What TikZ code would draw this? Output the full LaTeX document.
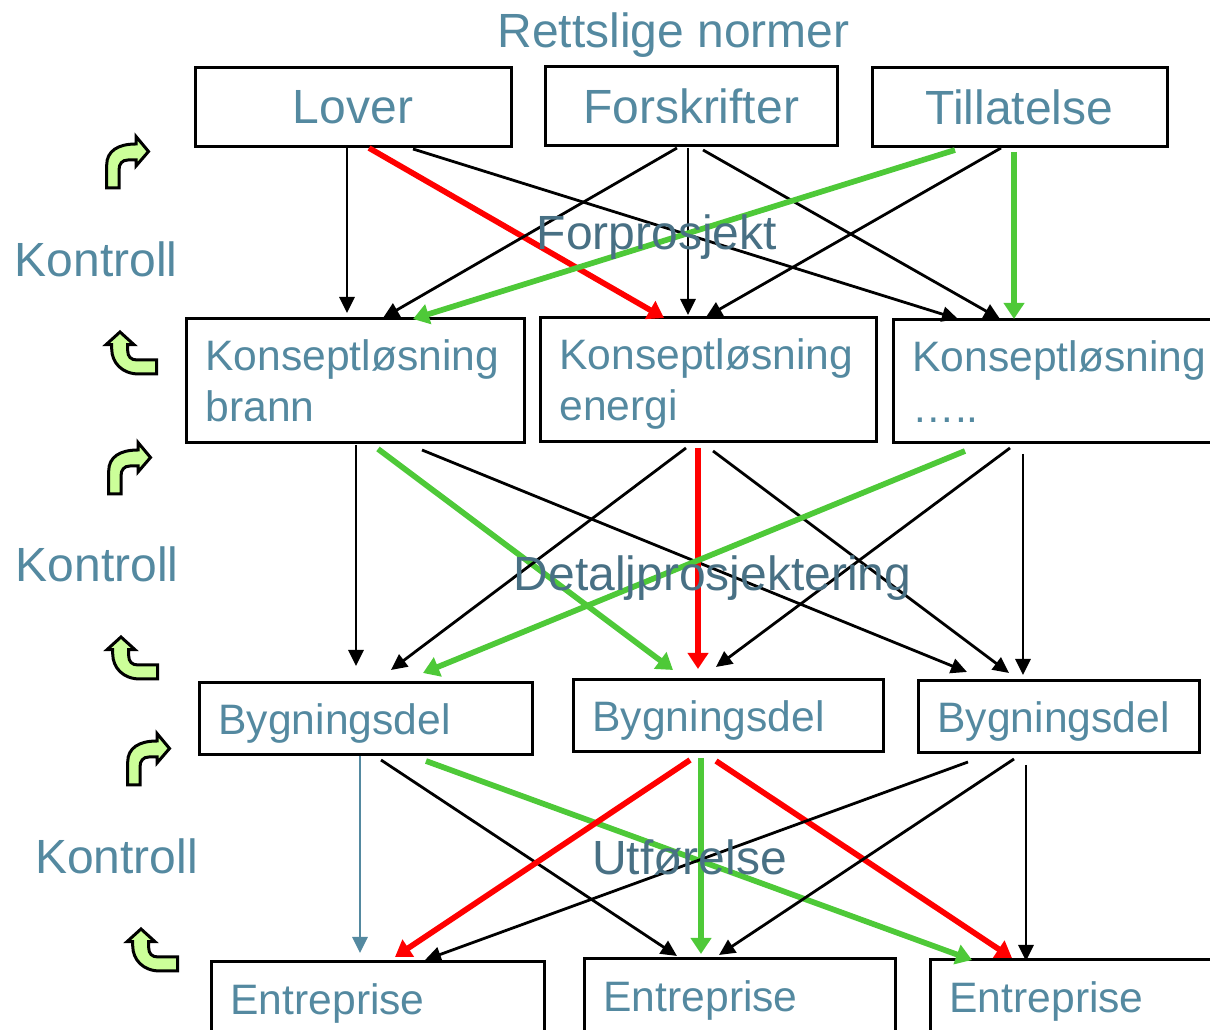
\documentclass[tikz,border=0pt]{standalone}
\usepackage{fontspec}
\setmainfont{Liberation Sans}
\usetikzlibrary{arrows.meta}
\definecolor{tekstblaa}{RGB}{84,137,160}
\definecolor{tekstmork}{RGB}{72,112,132}
\definecolor{pilgronn}{RGB}{78,201,56}
\definecolor{ikonfyll}{RGB}{204,255,153}
\tikzset{
	boks/.style={draw=black,line width=3pt,text=tekstblaa,inner xsep=19.5pt,inner ysep=0pt,outer sep=0pt,text depth=0pt,align=left},
	toline/.style={text depth=51pt},
	stor/.style={font=\fontsize{48}{54}\selectfont},
	liten/.style={font=\fontsize{42.6}{51}\selectfont},
	tittel/.style={stor,text=tekstblaa,inner sep=0pt},
	fase/.style={stor,text=tekstmork,inner sep=0pt},
	pil/.style={line width=2.8pt,-{Triangle[length=16pt,width=15pt]}},
	pilgron/.style={pil,line width=5.7pt,draw=pilgronn,-{Triangle[length=16pt,width=20pt]}},
	pilrod/.style={pil,line width=5.7pt,draw=red,-{Triangle[length=16pt,width=20pt]}},
	pilblaa/.style={pil,draw=tekstblaa},
	ikon/.style={draw=black,line width=3pt,fill=ikonfyll,line join=miter},
	svingned/.pic={\draw[ikon] (0.7,0)--(0.7,23) .. controls (0.7,37) and (12,44) .. (30,44)--(30,51.5)--(42.5,36.5)--(30,22)--(30,28)--(22,28) .. controls (16,28) and (13,24) .. (13,18)--(13,0)--cycle;},
	svingopp/.pic={\draw[ikon] (16,42)--(30,29.3)--(23.7,29.3)--(23.7,23.3) .. controls (23.7,17.3) and (27,14) .. (33,14)--(52.7,14)--(52.7,0)--(35,0) .. controls (18,0) and (7.7,11.3) .. (7.7,25.3)--(7.7,29.3)--(2,29.3)--cycle;}
}
\begin{document}
\begin{tikzpicture}[x=1pt,y=1pt]
	\useasboundingbox (0,0) rectangle (1210,1030);
	% rettslige normer
	\node[boks,stor,minimum width=316pt,minimum height=79pt] (lover) at (353,922.5) {Lover};
	\node[boks,stor,minimum width=292pt,minimum height=79pt] (forskrifter) at (691,923.5) {Forskrifter};
	\node[boks,stor,minimum width=295pt,minimum height=79pt] (tillatelse) at (1019.5,922.5) {Tillatelse};
	% konsept
	\node[boks,toline,liten,text width=299pt,minimum height=124pt] (brann) at (355,649) {Konseptløsning\\brann};
	\node[boks,toline,liten,text width=297pt,minimum height=124pt] (energi) at (708,650) {Konseptløsning\\energi};
	\node[boks,toline,liten,text width=283pt,minimum height=123pt] (annet) at (1054,648.5) {Konseptløsning\\…..};
	% bygningsdeler
	\node[boks,liten,text width=294pt,minimum height=72pt] (del1) at (365.5,311) {Bygningsdel};
	\node[boks,liten,text width=271pt,minimum height=72pt] (del2) at (728,314) {Bygningsdel};
	\node[boks,liten,text width=242pt,minimum height=72pt] (del3) at (1058.5,313) {Bygningsdel};
	% entrepriser
	\node[boks,liten,text width=294pt,minimum height=74pt] (ent1) at (377.5,31) {Entreprise};
	\node[boks,liten,text width=272pt,minimum height=74pt] (ent2) at (739.5,34) {Entreprise};
	\node[boks,liten,text width=245pt,minimum height=74pt] (ent3) at (1072,33) {Entreprise};
	% normer til konsept
	\draw[pil] ([shift={(-6,-1)}]lover.south)--([shift={(-8,6)}]brann.north);
	\draw[pilrod] ([shift={(16,-1)}]lover.south)--([shift={(-44,0)}]energi.north);
	\draw[pil] ([shift={(60,-2)}]lover.south)--([shift={(-96,1)}]annet.north);
	\draw[pil] ([shift={(-14,-2)}]forskrifter.south)--([shift={(28,1)}]brann.north);
	\draw[pil] ([shift={(-3,-2)}]forskrifter.south)--([shift={(-20,3)}]energi.north);
	\draw[pil] ([shift={(12,-4)}]forskrifter.south)--([shift={(-54,1)}]annet.north);
	\draw[pilgron] ([shift={(-64.5,-3)}]tillatelse.south)--([shift={(58,0)}]brann.north);
	\draw[pil] ([shift={(-18.5,-1)}]tillatelse.south)--([shift={(-2,1)}]energi.north);
	\draw[pilgron] ([shift={(-5.5,-5)}]tillatelse.south)--([shift={(-40,1)}]annet.north);
	% konsept til bygningsdel
	\draw[pil] ([shift={(1,-2)}]brann.south)--([shift={(-9.5,17)}]del1.north);
	\draw[pilgron] ([shift={(23,-6)}]brann.south)--([shift={(-55,10)}]del2.north);
	\draw[pil] ([shift={(67,-7)}]brann.south)--([shift={(-91.5,9)}]del3.north);
	\draw[pil] ([shift={(-22,-6)}]energi.south)--([shift={(25.5,13)}]del1.north);
	\draw[pilrod] ([shift={(-10,-6)}]energi.south)--([shift={(-30,11)}]del2.north);
	\draw[pil] ([shift={(5,-9)}]energi.south)--([shift={(-49.5,8)}]del3.north);
	\draw[pilgron] ([shift={(-89,-8)}]annet.south)--([shift={(57.5,10)}]del1.north);
	\draw[pil] ([shift={(-44,-5)}]annet.south)--([shift={(-12,13)}]del2.north);
	\draw[pil] ([shift={(-31,-11)}]annet.south)--([shift={(-35.5,6)}]del3.north);
	% bygningsdel til entreprise
	\draw[pilblaa] ([shift={(-5.5,-1)}]del1.south)--([shift={(-17.5,9)}]ent1.north);
	\draw[pil] ([shift={(15.5,-5)}]del1.south)--([shift={(-62.5,3)}]ent2.north);
	\draw[pilgron] ([shift={(60.5,-6)}]del1.south)--([shift={(-100,0)}]ent3.north);
	\draw[pilrod] ([shift={(-38,-8)}]del2.south)--([shift={(17.5,5)}]ent1.north);
	\draw[pilgron] ([shift={(-27,-6)}]del2.south)--([shift={(-38.5,5)}]ent2.north);
	\draw[pilrod] ([shift={(-12,-9)}]del2.south)--([shift={(-60,2)}]ent3.north);
	\draw[pil] ([shift={(-90.5,-9)}]del3.south)--([shift={(47.5,2)}]ent1.north);
	\draw[pil] ([shift={(-44.5,-6)}]del3.south)--([shift={(-20.5,4)}]ent2.north);
	\draw[pil] ([shift={(-32.5,-12)}]del3.south)--([shift={(-46,-1)}]ent3.north);
	% tekster
	\node[tittel] (normer) at (673.5,995) {Rettslige normer};
	\node[fase] (forprosjekt) at (657,793) {Forprosjekt};
	\node[fase] (detalj) at (712.5,452) {Detaljprosjektering};
	\node[fase] (utforelse) at (689.5,172) {Utførelse};
	\node[tittel] (kontroll1) at (96,771) {Kontroll};
	\node[tittel] (kontroll2) at (97,466) {Kontroll};
	\node[tittel] (kontroll3) at (116.5,174) {Kontroll};
	% ikoner
	\pic at (106,842) {svingned};
	\pic at (108,536) {svingned};
	\pic at (127,245) {svingned};
	\pic at (104,656) {svingopp};
	\pic at (105,351) {svingopp};
	\pic at (125,59) {svingopp};
\end{tikzpicture}
\end{document}
